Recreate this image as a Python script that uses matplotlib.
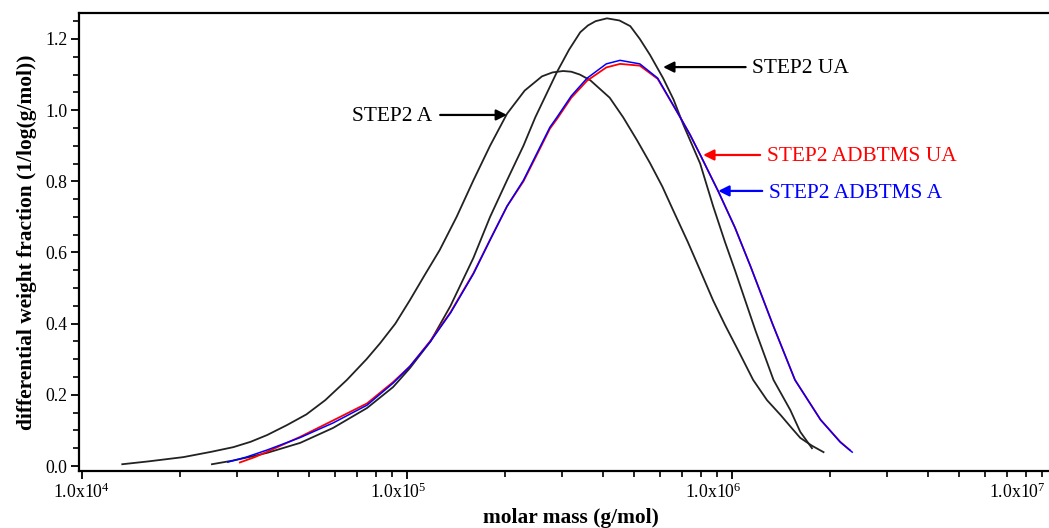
import numpy as np
import matplotlib
matplotlib.use("Agg")
import matplotlib.pyplot as plt
from matplotlib.ticker import FixedLocator, MultipleLocator, LogLocator, NullFormatter
from matplotlib.transforms import ScaledTranslation

plt.rcParams['font.family'] = ['Liberation Serif', 'DejaVu Serif']
plt.rcParams['mathtext.fontset'] = 'custom'
plt.rcParams['mathtext.rm'] = 'Liberation Serif'
plt.rcParams['mathtext.it'] = 'Liberation Serif:italic'
plt.rcParams['mathtext.bf'] = 'Liberation Serif:bold'

# ---- data (molar mass g/mol, differential weight fraction) ----
step2_a_M = [1.33e4, 1.6e4, 2.05e4, 2.5e4, 2.92e4, 3.3e4, 3.71e4, 4.27e4, 4.9e4, 5.6e4,
             6.53e4, 7.5e4, 8.26e4, 9.2e4, 1.02e5, 1.13e5, 1.26e5, 1.42e5, 1.6e5, 1.8e5,
             2.03e5, 2.3e5, 2.6e5, 2.8e5, 3.02e5, 3.2e5, 3.4e5, 3.66e5, 4.2e5, 4.62e5,
             5.1e5, 5.59e5, 6.1e5, 6.58e5, 7.3e5, 7.97e5, 8.74e5, 9.51e5, 1.05e6, 1.16e6,
             1.28e6, 1.41e6, 1.52e6, 1.62e6, 1.76e6, 1.91e6]
step2_a_w = [0.005, 0.013, 0.025, 0.040, 0.053, 0.068, 0.087, 0.115, 0.145, 0.185,
             0.242, 0.300, 0.345, 0.400, 0.466, 0.535, 0.607, 0.700, 0.803, 0.900,
             0.990, 1.055, 1.095, 1.106, 1.110, 1.108, 1.100, 1.084, 1.035, 0.980,
             0.915, 0.851, 0.785, 0.719, 0.630, 0.550, 0.465, 0.396, 0.320, 0.242,
             0.185, 0.143, 0.108, 0.079, 0.057, 0.039]

step2_ua_M = [2.51e4, 2.9e4, 3.3e4, 3.71e4, 4.69e4, 5.92e4, 7.53e4, 9.06e4, 1.02e5, 1.18e5,
              1.36e5, 1.6e5, 1.8e5, 2.03e5, 2.28e5, 2.48e5, 2.89e5, 3.15e5, 3.41e5, 3.6e5,
              3.8e5, 4.12e5, 4.5e5, 4.86e5, 5.2e5, 5.59e5, 6.13e5, 6.6e5, 7.07e5, 7.97e5,
              8.74e5, 9.5e5, 1.02e6, 1.18e6, 1.34e6, 1.51e6, 1.62e6, 1.76e6]
step2_ua_w = [0.005, 0.015, 0.026, 0.037, 0.065, 0.107, 0.163, 0.222, 0.275, 0.350,
              0.450, 0.585, 0.700, 0.803, 0.900, 0.980, 1.107, 1.170, 1.219, 1.238,
              1.250, 1.258, 1.252, 1.236, 1.200, 1.155, 1.090, 1.030, 0.960, 0.850,
              0.730, 0.630, 0.550, 0.380, 0.242, 0.157, 0.096, 0.050]

adbtms_ua_M = [3.06e4, 3.4e4, 3.71e4, 4.69e4, 5.92e4, 7.53e4, 9.06e4, 1.02e5, 1.18e5, 1.36e5,
               1.6e5, 1.8e5, 2.03e5, 2.28e5, 2.48e5, 2.75e5, 2.89e5, 3.2e5, 3.58e5, 4.1e5,
               4.52e5, 5.2e5, 5.9e5, 6.92e5, 7.43e5, 7.97e5, 9.06e5, 1.02e6, 1.14e6, 1.33e6,
               1.56e6, 1.87e6, 2.15e6, 2.30e6]
adbtms_ua_w = [0.010, 0.025, 0.040, 0.082, 0.128, 0.176, 0.236, 0.280, 0.352, 0.432,
               0.542, 0.636, 0.730, 0.800, 0.866, 0.948, 0.975, 1.035, 1.083, 1.120,
               1.130, 1.125, 1.088, 0.980, 0.930, 0.875, 0.772, 0.670, 0.560, 0.400,
               0.242, 0.130, 0.068, 0.045]

adbtms_a_M = [2.81e4, 3.2e4, 3.71e4, 4.69e4, 5.92e4, 7.53e4, 9.06e4, 1.02e5, 1.18e5, 1.36e5,
              1.6e5, 1.8e5, 2.03e5, 2.28e5, 2.48e5, 2.75e5, 2.89e5, 3.2e5, 3.58e5, 4.1e5,
              4.52e5, 5.2e5, 5.9e5, 6.92e5, 7.43e5, 7.97e5, 9.06e5, 1.02e6, 1.14e6, 1.33e6,
              1.56e6, 1.87e6, 2.15e6, 2.34e6]
adbtms_a_w = [0.011, 0.025, 0.045, 0.080, 0.121, 0.171, 0.233, 0.280, 0.350, 0.430,
              0.540, 0.635, 0.730, 0.803, 0.870, 0.952, 0.980, 1.040, 1.090, 1.130,
              1.140, 1.130, 1.090, 0.980, 0.930, 0.875, 0.772, 0.670, 0.560, 0.400,
              0.242, 0.130, 0.067, 0.039]

x_ticks = [1e4, 1e5, 1e6, 1e7]
x_ticklabels = [r'1.0x10$^{4}$', r'1.0x10$^{5}$', r'1.0x10$^{6}$', r'1.0x10$^{7}$']
y_ticks = [0.0, 0.2, 0.4, 0.6, 0.8, 1.0, 1.2]
y_ticklabels = ['0.0', '0.2', '0.4', '0.6', '0.8', '1.0', '1.2']

W, H = 1049, 528
fig = plt.figure(figsize=(W / 100, H / 100), dpi=100)
ax = fig.add_axes([79 / W, (H - 471) / H, 1004 / W, 458 / H])

black = '#222222'
ax.plot(step2_a_M, step2_a_w, color=black, lw=1.3)
ax.plot(step2_ua_M, step2_ua_w, color=black, lw=1.3)
ax.plot(adbtms_ua_M, adbtms_ua_w, color='#ff0000', lw=1.3)
ax.plot(adbtms_a_M, adbtms_a_w, color='#0000ff', lw=1.1)

ax.set_xscale('log')
ax.set_xlim(9.79e3, 1.2e7)
ax.set_ylim(-0.014, 1.273)

ax.xaxis.set_major_locator(FixedLocator(x_ticks))
ax.set_xticklabels(x_ticklabels)
ax.xaxis.set_minor_locator(LogLocator(base=10, subs=np.arange(2, 10)))
ax.xaxis.set_minor_formatter(NullFormatter())
ax.set_yticks(y_ticks)
ax.set_yticklabels(y_ticklabels)
ax.yaxis.set_minor_locator(MultipleLocator(0.05))

ax.tick_params(axis='both', which='major', direction='out', length=5.5, width=1.3,
               labelsize=12.8, colors='black', pad=3)
ax.tick_params(axis='both', which='minor', direction='out', length=4.2, width=1.2)
ax.tick_params(top=False, right=False, which='both')

for s in ['left', 'bottom', 'top']:
    ax.spines[s].set_linewidth(1.6)
ax.spines['right'].set_visible(False)

# shift x tick labels like in the reference (last one kept inside the figure)
offsets = [0, -9, -19, -40]
for lbl, dx in zip(ax.get_xticklabels(), offsets):
    lbl.set_transform(lbl.get_transform() + ScaledTranslation(dx / 100, 0, fig.dpi_scale_trans))

ax.set_xlabel('molar mass (g/mol)', fontsize=15.4, fontweight='bold', labelpad=2)
ax.set_ylabel('differential weight fraction (1/log(g/mol))', fontsize=15.4,
              fontweight='bold', labelpad=6)
ax.xaxis.set_label_coords(0.4895, -0.08)

def arrow(tip, tail, color):
    ax.annotate('', xy=tip, xytext=tail,
                arrowprops=dict(arrowstyle='-|>', color=color, lw=1.6,
                                mutation_scale=16, shrinkA=0, shrinkB=0))

arrow((6.13e5, 1.121), (1.10e6, 1.121), 'black')
ax.text(1.152e6, 1.118, 'STEP2 UA', fontsize=15.4, color='black', va='center', ha='left')

arrow((2.03e5, 0.9865), (1.264e5, 0.9865), 'black')
ax.text(1.194e5, 0.981, 'STEP2 A', fontsize=15.4, color='black', va='center', ha='right')

arrow((8.14e5, 0.874), (1.219e6, 0.874), '#ff0000')
ax.text(1.282e6, 0.871, 'STEP2 ADBTMS UA', fontsize=15.4, color='#ff0000', va='center', ha='left')

arrow((9.06e5, 0.773), (1.237e6, 0.773), '#0000ff')
ax.text(1.30e6, 0.767, 'STEP2 ADBTMS A', fontsize=15.4, color='#0000ff', va='center', ha='left')

fig.savefig('out.png', dpi=100)
